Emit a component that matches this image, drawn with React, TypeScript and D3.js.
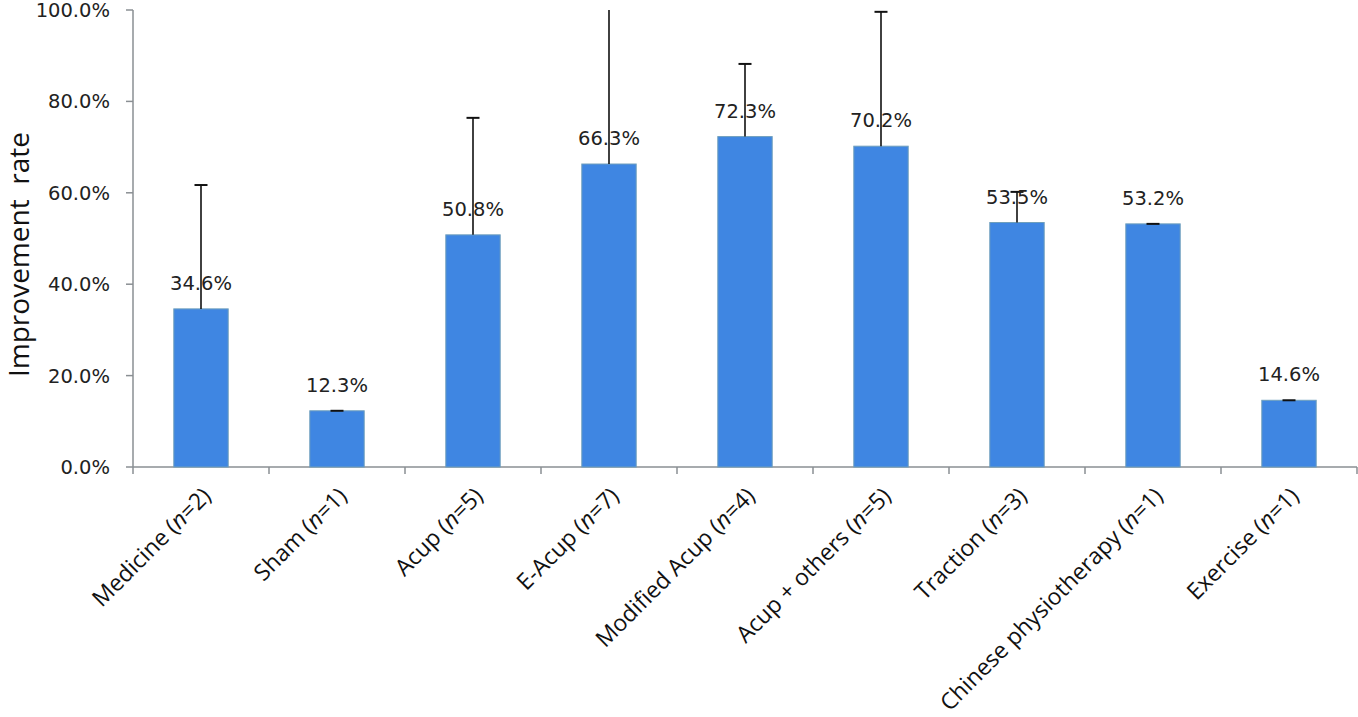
import React from "react";
import * as d3 from "d3";

const categories = [
  "Medicine",
  "Sham",
  "Acup",
  "E-Acup",
  "Modified Acup",
  "Acup + others",
  "Traction",
  "Chinese physiotherapy",
  "Exercise",
];
const counts = ["2", "1", "5", "7", "4", "5", "3", "1", "1"];
const rates = [34.6, 12.3, 50.8, 66.3, 72.3, 70.2, 53.5, 53.2, 14.6];
// upper end of each error bar (%)
const upper = [61.7, 12.3, 76.4, 108, 88.2, 99.6, 60.2, 53.2, 14.6];
const yTicks = [0, 20, 40, 60, 80, 100];

const WIDTH = 1358;
const HEIGHT = 717;
const M = { left: 133, right: 1357, top: 10, bottom: 467 };

const App = () => {
  const x = d3
    .scaleBand()
    .domain(categories)
    .range([M.left, M.right])
    .paddingInner(0.6)
    .paddingOuter(0.3);
  const step = x.step();
  const y = d3.scaleLinear().domain([0, 100]).range([M.bottom, M.top]);
  const fmt = (v) => d3.format(".1f")(v) + "%";
  const axisColor = "#8a8f93";
  const bandEdges = d3.range(categories.length + 1).map((i) => M.left + i * step);

  return (
    <svg
      width={WIDTH}
      height={HEIGHT}
      style={{ position: "absolute", left: 0, top: 0, background: "#fff" }}
    >
      <defs>
        <clipPath id="plot">
          <rect x={M.left} y={M.top} width={M.right - M.left} height={M.bottom - M.top} />
        </clipPath>
      </defs>

      {/* y axis */}
      <line x1={M.left} x2={M.left} y1={M.top} y2={M.bottom} stroke={axisColor} strokeWidth={1.5} />
      {yTicks.map((t) => (
        <g key={t}>
          <line x1={M.left - 7} x2={M.left} y1={y(t)} y2={y(t)} stroke={axisColor} strokeWidth={1.5} />
          <text
            x={110}
            y={y(t)}
            dy="0.36em"
            textAnchor="end"
            fontFamily="DejaVu Sans"
            fontSize={19.5}
            fill="#222"
          >
            {fmt(t)}
          </text>
        </g>
      ))}
      <text
        transform={`translate(29 ${377}) rotate(-90)`}
        fontFamily="Open Sans"
        fontSize={28}
        fill="#111"
        style={{ whiteSpace: "pre" }}
      >
        {"Improvement  rate"}
      </text>

      {/* x axis */}
      <line x1={M.left} x2={M.right} y1={M.bottom} y2={M.bottom} stroke={axisColor} strokeWidth={1.5} />
      {bandEdges.map((e, i) => (
        <line key={i} x1={e} x2={e} y1={M.bottom} y2={M.bottom + 7} stroke={axisColor} strokeWidth={1.5} />
      ))}

      {/* bars */}
      {categories.map((c, i) => (
        <rect
          key={c}
          x={x(c)}
          y={y(rates[i])}
          width={x.bandwidth()}
          height={y(0) - y(rates[i])}
          fill="#3f86e2"
          stroke="#6f9fbd"
          strokeWidth={1}
        />
      ))}

      {/* error bars */}
      <g clipPath="url(#plot)">
        {categories.map((c, i) => {
          const cx = x(c) + x.bandwidth() / 2;
          const top = y(upper[i]);
          return (
            <g key={c} stroke="#111" strokeWidth={1.6}>
              <line x1={cx} x2={cx} y1={y(rates[i])} y2={top} />
              <line x1={cx - 6.5} x2={cx + 6.5} y1={top} y2={top} strokeWidth={2} />
            </g>
          );
        })}
      </g>

      {/* value labels */}
      {categories.map((c, i) => (
        <text
          key={c}
          x={x(c) + x.bandwidth() / 2}
          y={y(rates[i]) - 19}
          textAnchor="middle"
          fontFamily="DejaVu Sans"
          fontSize={19.5}
          fill="#222"
        >
          {fmt(rates[i])}
        </text>
      ))}

      {/* category labels */}
      {categories.map((c, i) => {
        const cx = x(c) + x.bandwidth() / 2;
        return (
          <text
            key={c}
            transform={`translate(${cx} ${M.bottom + 19}) rotate(-45)`}
            textAnchor="end"
            dy="0.7em"
            fontFamily="Open Sans"
            fontSize={23}
            fill="#111"
          >
            {c} (<tspan fontStyle="italic">n</tspan>={counts[i]})
          </text>
        );
      })}
    </svg>
  );
};

export default App;
